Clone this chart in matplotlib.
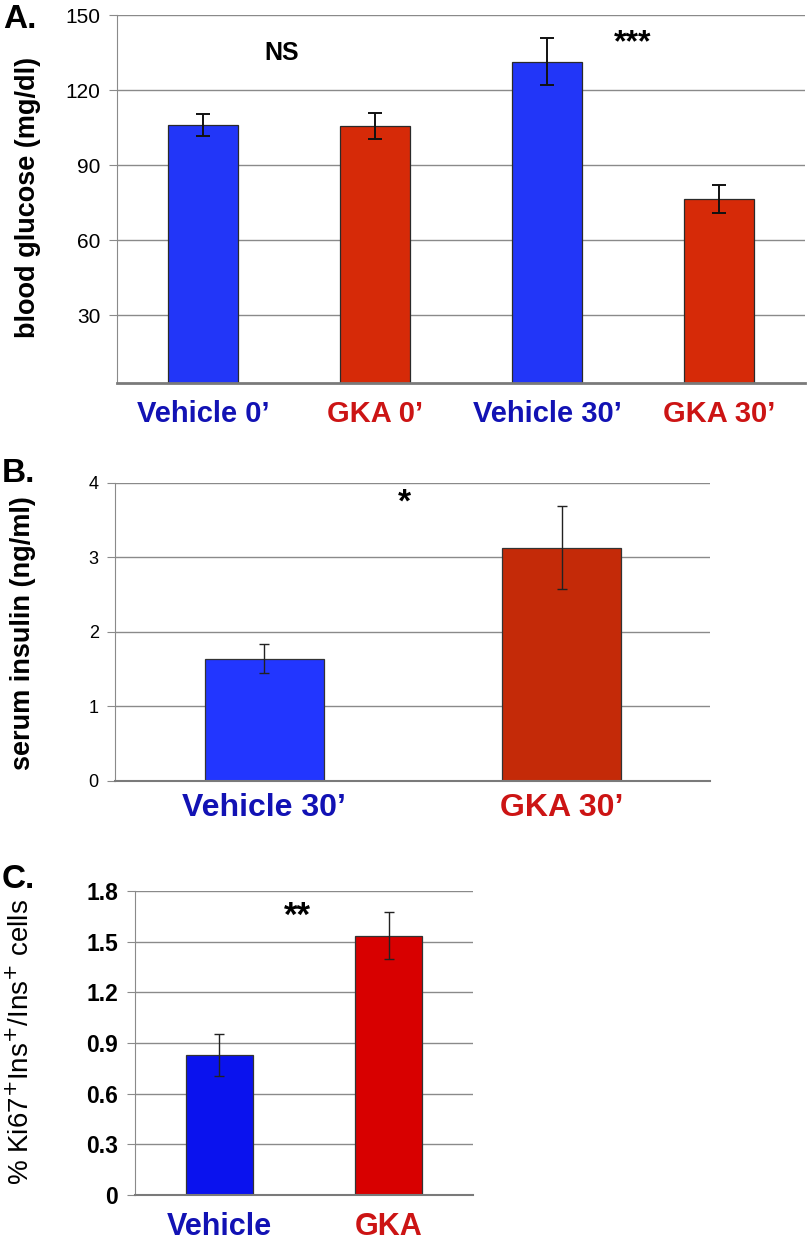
import matplotlib
matplotlib.use("Agg")
import matplotlib.pyplot as plt

plt.rcParams['font.family'] = ['Liberation Sans', 'DejaVu Sans']

# ---- data ----
a_labels = ["Vehicle 0\u2019", "GKA 0\u2019", "Vehicle 30\u2019", "GKA 30\u2019"]
a_values = [106.0, 105.6, 131.4, 76.3]
a_errors = [4.5, 5.2, 9.5, 5.6]
a_ticks = [30, 60, 90, 120, 150]

b_labels = ["Vehicle 30\u2019", "GKA 30\u2019"]
b_values = [1.64, 3.13]
b_errors = [0.20, 0.56]
b_ticks = [0, 1, 2, 3, 4]

c_labels = ["Vehicle", "GKA"]
c_values = [0.83, 1.535]
c_errors = [0.125, 0.14]
c_ticks = [0, 0.3, 0.6, 0.9, 1.2, 1.5, 1.8]

W, H = 812, 1241
fig = plt.figure(figsize=(W / 100, H / 100), dpi=100)

def rect(x0, x1, ytop, ybot):
    return [x0 / W, 1 - ybot / H, (x1 - x0) / W, (ybot - ytop) / H]

BLUE_T = "#1212b4"
RED_T = "#cc1414"

def style(ax, ticks, ylim, tick_fs, tick_w, fmt):
    ax.set_ylim(*ylim)
    ax.set_yticks(ticks)
    ax.set_yticklabels([fmt(t) for t in ticks], fontsize=tick_fs, fontweight=tick_w)
    ax.yaxis.grid(True, color="#8a8a8a", lw=1.0)
    ax.set_axisbelow(True)
    for s in ["top", "right"]:
        ax.spines[s].set_visible(False)
    ax.spines["left"].set_color("#8a8a8a")
    ax.spines["bottom"].set_color("#7a7a7a")
    ax.tick_params(axis="y", length=6, color="#8a8a8a", pad=6)
    ax.tick_params(axis="x", length=0)

# ---- Panel A ----
axA = fig.add_axes(rect(117, 805, 15.3, 383))
xa = list(range(len(a_values)))
axA.bar(xa, a_values, width=0.405, color=["#2236f8", "#d62a08", "#2236f8", "#d62a08"],
        edgecolor="#2a2a2a", lw=0.9, zorder=2)
axA.errorbar(xa, a_values, yerr=a_errors, fmt="none", ecolor="#111111", elinewidth=1.4,
             capsize=5, capthick=1.4, zorder=3)
axA.set_xlim(-0.5, 3.5)
style(axA, a_ticks, (2.8, 150), 15, "normal", lambda t: f"{t:g}")
axA.spines["bottom"].set_linewidth(2.0)
axA.set_xticks(xa)
axA.set_xticklabels(a_labels, fontsize=21, fontweight="bold")
for lab, c in zip(axA.get_xticklabels(), [BLUE_T, RED_T, BLUE_T, RED_T]):
    lab.set_color(c)
axA.tick_params(axis="x", pad=12)
axA.text(0.46, 135, "NS", ha="center", va="center", fontsize=18, fontweight="bold")
axA.text(2.5, 139, "***", ha="center", va="center", fontsize=23, fontweight="bold")

# ---- Panel B ----
axB = fig.add_axes(rect(115.5, 710.5, 482.7, 780.7))
xb = list(range(len(b_values)))
axB.bar(xb, b_values, width=0.4, color=["#2236ff", "#c42a08"], edgecolor="#333333",
        lw=0.9, zorder=2)
axB.errorbar(xb, b_values, yerr=b_errors, fmt="none", ecolor="#222222", elinewidth=1.0,
             capsize=3.5, capthick=1.0, zorder=3)
axB.set_xlim(-0.5, 1.5)
style(axB, b_ticks, (0, 4), 13, "normal", lambda t: f"{t:g}")
axB.spines["bottom"].set_linewidth(1.5)
axB.set_xticks(xb)
axB.set_xticklabels(b_labels, fontsize=23, fontweight="bold")
for lab, c in zip(axB.get_xticklabels(), [BLUE_T, RED_T]):
    lab.set_color(c)
axB.tick_params(axis="x", pad=9)
axB.text(0.47, 3.72, "*", ha="center", va="center", fontsize=24, fontweight="bold")

# ---- Panel C ----
axC = fig.add_axes(rect(135, 473, 891, 1195))
xc = list(range(len(c_values)))
axC.bar(xc, c_values, width=0.40, color=["#0a12ee", "#d80000"], edgecolor="#333333",
        lw=0.9, zorder=2)
axC.errorbar(xc, c_values, yerr=c_errors, fmt="none", ecolor="#222222", elinewidth=1.0,
             capsize=3.5, capthick=1.0, zorder=3)
axC.set_xlim(-0.5, 1.5)
style(axC, c_ticks, (0, 1.8), 16.5, "bold", lambda t: f"{t:g}")
axC.spines["bottom"].set_linewidth(1.5)
axC.set_xticks(xc)
axC.set_xticklabels(c_labels, fontsize=22, fontweight="bold")
for lab, c in zip(axC.get_xticklabels(), [BLUE_T, RED_T]):
    lab.set_color(c)
axC.tick_params(axis="x", pad=12)
axC.text(0.46, 1.65, "**", ha="center", va="center", fontsize=25, fontweight="bold")

# ---- panel letters and y labels ----
def ftext(x, y, s, **kw):
    fig.text(x / W, 1 - y / H, s, **kw)

ftext(20, 19, "A.", fontsize=24, fontweight="bold", ha="center", va="center")
ftext(18, 473, "B.", fontsize=24, fontweight="bold", ha="center", va="center")
ftext(18, 879, "C.", fontsize=24, fontweight="bold", ha="center", va="center")

ftext(28, 197, "blood glucose (mg/dl)", fontsize=19.5, fontweight="bold",
      rotation=90, ha="center", va="center")
ftext(23, 633, "serum insulin (ng/ml)", fontsize=19.5, fontweight="bold",
      rotation=90, ha="center", va="center")
ftext(21, 1042, "% Ki67$^{+}$Ins$^{+}$/Ins$^{+}$ cells", fontsize=20,
      rotation=90, ha="center", va="center")

fig.savefig("out.png", dpi=100)
